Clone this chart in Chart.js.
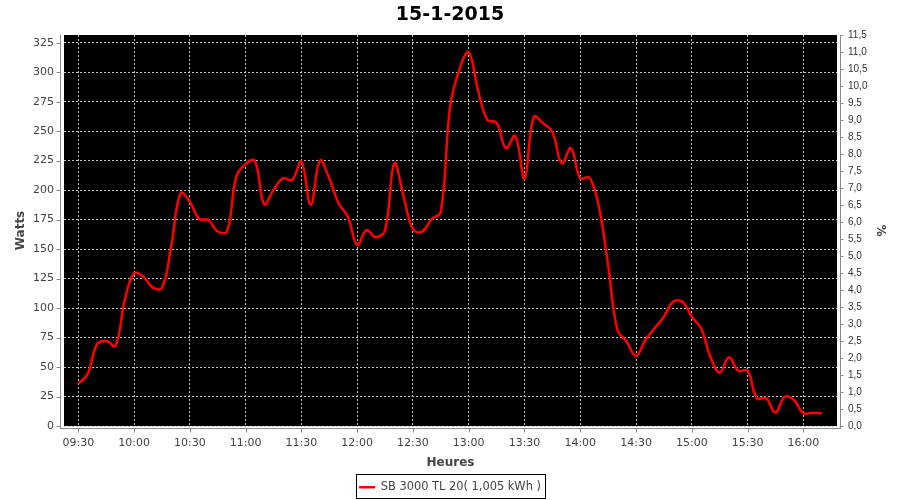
<!DOCTYPE html>
<html><head><meta charset="utf-8">
<script src="https://cdn.jsdelivr.net/npm/chart.js@4/dist/chart.umd.min.js"></script>
<style>html,body{margin:0;padding:0;background:#fff;}canvas{display:block;}</style>
</head><body>
<canvas id="c" width="900" height="500"></canvas>
<script>
const chartTitle = '15-1-2015';
const seriesLabel = 'SB 3000 TL 20( 1,005 kWh )';
const xAxisTitle = 'Heures';
const leftAxisTitle = 'Watts';
const rightAxisTitle = '%';

const times = ['09:30','09:35','09:40','09:45','09:50','09:55','10:00','10:05','10:10','10:15','10:20','10:25',
  '10:30','10:35','10:40','10:45','10:50','10:55','11:00','11:05','11:10','11:15','11:20','11:25',
  '11:30','11:35','11:40','11:45','11:50','11:55','12:00','12:05','12:10','12:15','12:20','12:25',
  '12:30','12:35','12:40','12:45','12:50','12:55','13:00','13:05','13:10','13:15','13:20','13:25',
  '13:30','13:35','13:40','13:45','13:50','13:55','14:00','14:05','14:10','14:15','14:20','14:25',
  '14:30','14:35','14:40','14:45','14:50','14:55','15:00','15:05','15:10','15:15','15:20','15:25',
  '15:30','15:35','15:40','15:45','15:50','15:55','16:00','16:05','16:10'];
const watts = [35.6,44,69,72,68,106.8,129.5,126.6,117.5,117,152.6,197.3,
  190.2,175.5,174.7,164.8,165,211.4,222.1,224.7,188,200,210,208.6,
  224.1,187.4,225,210,188.8,177.5,153.5,166,160,166,222.7,194.4,
  166.8,164.8,175.3,181.7,270.7,302.4,316.9,284.9,259.5,257.2,235.5,245.9,
  210,262,256.6,249.5,222.7,235.5,210,210.5,185.9,136.5,81.4,71.5,
  59.4,72.9,82.8,92.7,105.4,105.4,92.7,82.8,58.8,45.2,58.2,46.9,
  46.9,23.5,23.5,11.3,24.8,22,10.8,11.3,10.8];
const xTickLabels = ['09:30','10:00','10:30','11:00','11:30','12:00','12:30','13:00','13:30','14:00','14:30','15:00','15:30','16:00'];
const wattTicks = [0,25,50,75,100,125,150,175,200,225,250,275,300,325];
const percentTicks = [0,0.5,1,1.5,2,2.5,3,3.5,4,4.5,5,5.5,6,6.5,7,7.5,8,8.5,9,9.5,10,10.5,11,11.5];

const toMin = s => parseInt(s.slice(0,2),10)*60 + parseInt(s.slice(3),10);
const fmtMin = m => String(Math.floor(m/60)).padStart(2,'0') + ':' + String(Math.round(m%60)).padStart(2,'0');
const points = times.map((t,i) => ({x: toMin(t), y: watts[i]}));

Chart.defaults.font.family = 'DejaVu Sans';
Chart.defaults.color = '#444';

const deco = {
  id: 'deco',
  beforeDraw(chart) {
    const {ctx, chartArea: a} = chart;
    ctx.save();
    ctx.fillStyle = '#000';
    ctx.fillRect(a.left, a.top, a.right - a.left, a.bottom - a.top);
    ctx.restore();
  },
  afterDraw(chart) {
    const {ctx, chartArea: a, scales} = chart;
    ctx.save();
    ctx.strokeStyle = '#8a8a8a';
    ctx.lineWidth = 1;
    ctx.beginPath();
    const lx = Math.round(a.left) - 3.5;
    ctx.moveTo(lx, a.top); ctx.lineTo(lx, a.bottom + 3);
    scales.y.ticks.forEach(t => {
      const py = Math.round(scales.y.getPixelForValue(t.value)) + 0.5;
      ctx.moveTo(lx - 4, py); ctx.lineTo(lx, py);
    });
    const by = Math.round(a.bottom) + 2.5;
    ctx.moveTo(a.left - 3, by); ctx.lineTo(a.right + 3, by);
    scales.x.ticks.forEach(t => {
      const px = Math.round(scales.x.getPixelForValue(t.value)) + 0.5;
      ctx.moveTo(px, by); ctx.lineTo(px, by + 4);
    });
    const rx = Math.round(a.right) + 3.5;
    ctx.moveTo(rx, a.top); ctx.lineTo(rx, a.bottom + 3);
    scales.y1.ticks.forEach(t => {
      const py = Math.round(scales.y1.getPixelForValue(t.value)) + 0.5;
      ctx.moveTo(rx, py); ctx.lineTo(rx + 3, py);
    });
    ctx.stroke();
    const hb = chart.legend && chart.legend.legendHitBoxes && chart.legend.legendHitBoxes[0];
    if (hb) {
      const cy = hb.top + hb.height / 2;
      ctx.strokeStyle = '#000';
      ctx.strokeRect(Math.round(hb.left) - 2.5, Math.round(cy) - 12.5, Math.round(hb.width) + 7, 24);
    }
    ctx.restore();
  }
};

new Chart(document.getElementById('c'), {
  type: 'line',
  data: {
    datasets: [{
      label: seriesLabel,
      data: points,
      borderColor: '#ff0000',
      backgroundColor: '#ff0000',
      borderWidth: 2.5,
      pointRadius: 0,
      fill: false,
      tension: 0.4,
      yAxisID: 'y'
    }]
  },
  options: {
    responsive: false,
    animation: false,
    events: [],
    layout: {padding: {left: 0, right: 0, top: 0, bottom: -3}},
    plugins: {
      title: {
        display: true, text: chartTitle, color: '#000',
        font: {family: 'DejaVu Sans', size: 19, weight: 'bold', lineHeight: 1.2},
        padding: {top: 3.6, bottom: 8.6}
      },
      legend: {
        display: true, position: 'bottom',
        labels: {
          usePointStyle: true, pointStyle: 'line', pointStyleWidth: 16,
          color: '#444', padding: 10,
          font: {family: 'DejaVu Sans', size: 11.4}
        }
      },
      tooltip: {enabled: false}
    },
    scales: {
      x: {
        type: 'linear',
        min: 562.3, max: 978.1,
        afterBuildTicks: s => { s.ticks = xTickLabels.map(l => ({value: toMin(l)})); },
        afterFit: s => { s.height = 45.6; },
        ticks: {
          autoSkip: false, maxRotation: 0, padding: 11, color: '#444',
          font: {family: 'DejaVu Sans', size: 11},
          callback: v => fmtMin(v)
        },
        grid: {color: '#c4c4c4', lineWidth: 1, drawTicks: false},
        border: {display: false, dash: [2,2]},
        title: {
          display: true, text: xAxisTitle, color: '#444',
          font: {family: 'DejaVu Sans', size: 12, weight: 'bold', lineHeight: 1.2},
          padding: {top: 0, bottom: 2}
        }
      },
      y: {
        type: 'linear', position: 'left',
        min: 0, max: 331.5,
        afterBuildTicks: s => { s.ticks = wattTicks.map(v => ({value: v})); },
        afterFit: s => { s.width = 64; },
        ticks: {
          padding: 10, color: '#444',
          font: {family: 'DejaVu Sans', size: 11},
          callback: v => String(v)
        },
        grid: {color: '#c4c4c4', lineWidth: 1, drawTicks: false},
        border: {display: false, dash: [2,2]},
        title: {
          display: true, text: leftAxisTitle, color: '#444',
          font: {family: 'DejaVu Sans', size: 12, weight: 'bold', lineHeight: 1.2},
          padding: {top: 13.3, bottom: 0}
        }
      },
      y1: {
        type: 'linear', position: 'right', display: true,
        min: 0, max: 11.5,
        afterBuildTicks: s => { s.ticks = percentTicks.map(v => ({value: v})); },
        afterFit: s => { s.width = 63; },
        ticks: {
          padding: 11, color: '#333',
          font: {family: 'Liberation Sans', size: 10},
          callback: v => Number(v).toFixed(1).replace('.', ',')
        },
        grid: {display: false, drawTicks: false},
        border: {display: false},
        title: {
          display: true, text: rightAxisTitle, color: '#444',
          font: {family: 'DejaVu Sans', size: 12, weight: 'bold', lineHeight: 1.2},
          padding: {top: 12.8, bottom: 0}
        }
      }
    }
  },
  plugins: [deco]
});
</script>
</body></html>
